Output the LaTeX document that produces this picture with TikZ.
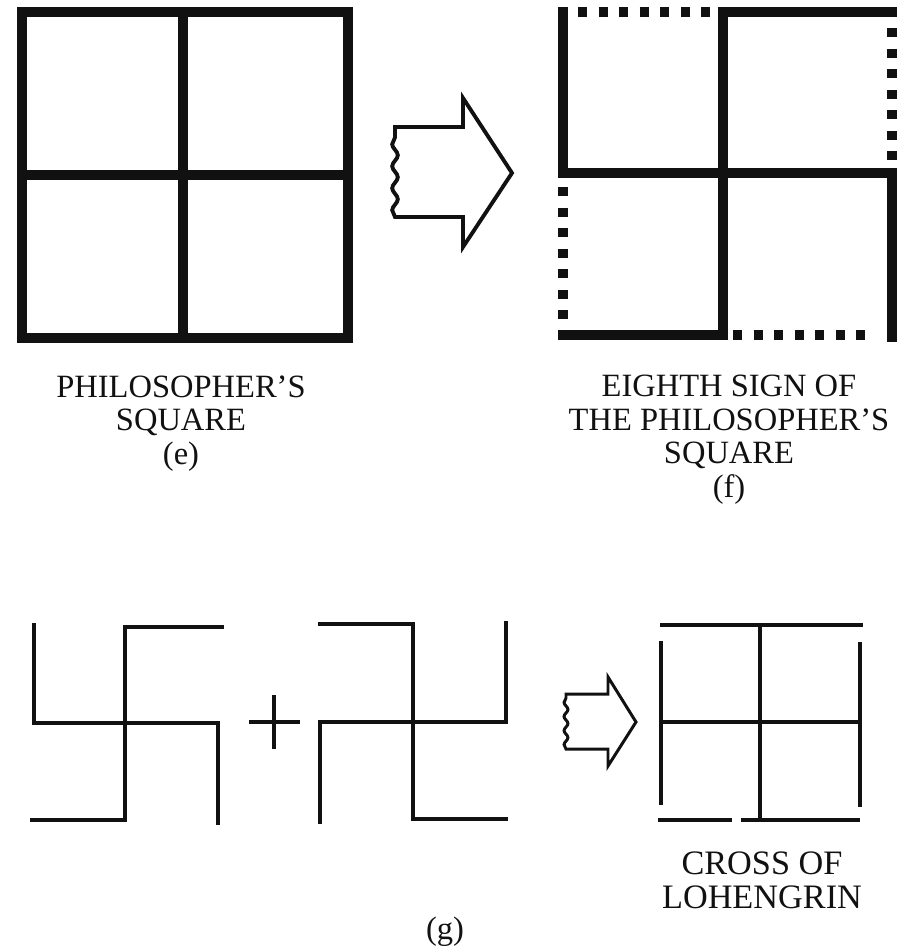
\documentclass[tikz,border=0pt]{standalone}
\usepackage{fontspec}
\setmainfont{Liberation Serif}
\usepackage{tikz}
\usetikzlibrary{decorations.pathmorphing}
\definecolor{Ink}{HTML}{111111}
\tikzset{
	squareline/.style={draw=Ink, line width=5.2pt, line join=miter, line cap=rect},
	signline/.style={draw=Ink, line width=5.6pt, line join=miter, line cap=rect},
	dotrow/.style={draw=Ink, line width=5.6pt, dash pattern=on 5.1pt off 6.6pt},
	crossline/.style={draw=Ink, line width=2.4pt, line join=miter, line cap=rect},
	fatarrow/.style={draw=Ink, line width=2.2pt, line join=miter},
	caption/.style={text=Ink, align=center, anchor=base, inner sep=0pt,
		font=\fontsize{18.5}{19}\selectfont}
}
\begin{document}
\begin{tikzpicture}[x=0.02cm, y=-0.02cm]
			\useasboundingbox (0,0) rectangle (911,948);
			
			\draw[squareline] (22,12) rectangle (348,338);
			\draw[squareline] (183,12) -- (183,338);
			\draw[squareline] (22,175) -- (348,175);
			
			\draw[fatarrow] (463,98) -- (512,173) -- (463,247) -- (463,217) -- (395,217)
				decorate[decoration={snake, amplitude=1.6pt, segment length=12.5pt}] {-- (395,127)}
				-- (463,127) -- cycle;
			
			\draw[signline] (563,12) -- (563,173) -- (892,173) -- (892,337);
			\draw[signline] (892,12) -- (723,12) -- (723,335) -- (563,335);
			\draw[dotrow] (578,12) -- (716,12);
			\draw[dotrow] (892,28) -- (892,166);
			\draw[dotrow] (563,187) -- (563,325);
			\draw[dotrow] (733,335) -- (875,335);
			
			\node[caption] (captionE) at (181,464) {PHILOSOPHER'S\\SQUARE\\(e)};
			\node[caption] (captionF) at (729,497) {EIGHTH SIGN OF\\THE PHILOSOPHER'S\\SQUARE\\(f)};
			
			\draw[crossline] (125,723) -- (125,627) -- (222,627);
			\draw[crossline] (125,723) -- (218,723) -- (218,823);
			\draw[crossline] (125,723) -- (125,820) -- (32,820);
			\draw[crossline] (125,723) -- (34,723) -- (34,625);
			
			\draw[crossline] (251,722) -- (298,722);
			\draw[crossline] (274,697) -- (274,747);
			
			\draw[crossline] (413,722) -- (413,624) -- (320,624);
			\draw[crossline] (413,722) -- (506,722) -- (506,623);
			\draw[crossline] (413,722) -- (413,819) -- (506,819);
			\draw[crossline] (413,722) -- (320,722) -- (320,822);
			
			\draw[fatarrow, line width=1.7pt] (608,677) -- (636,722) -- (608,766) -- (608,749) -- (566,749)
				decorate[decoration={snake, amplitude=1.1pt, segment length=8pt}] {-- (566,694)}
				-- (608,694) -- cycle;
			
			\draw[crossline] (662,625) -- (861,625);
			\draw[crossline] (760,625) -- (760,818);
			\draw[crossline] (661,643) -- (661,803);
			\draw[crossline] (860,644) -- (860,805);
			\draw[crossline] (661,722) -- (860,722);
			\draw[crossline] (660,820) -- (730,820);
			\draw[crossline] (743,820) -- (858,820);
			
			\node[caption, font=\fontsize{19.5}{19}\selectfont] (captionCross) at (762,908) {CROSS OF\\LOHENGRIN};
			\node[caption] (captionG) at (445,939) {(g)};
		\end{tikzpicture}
\end{document}
